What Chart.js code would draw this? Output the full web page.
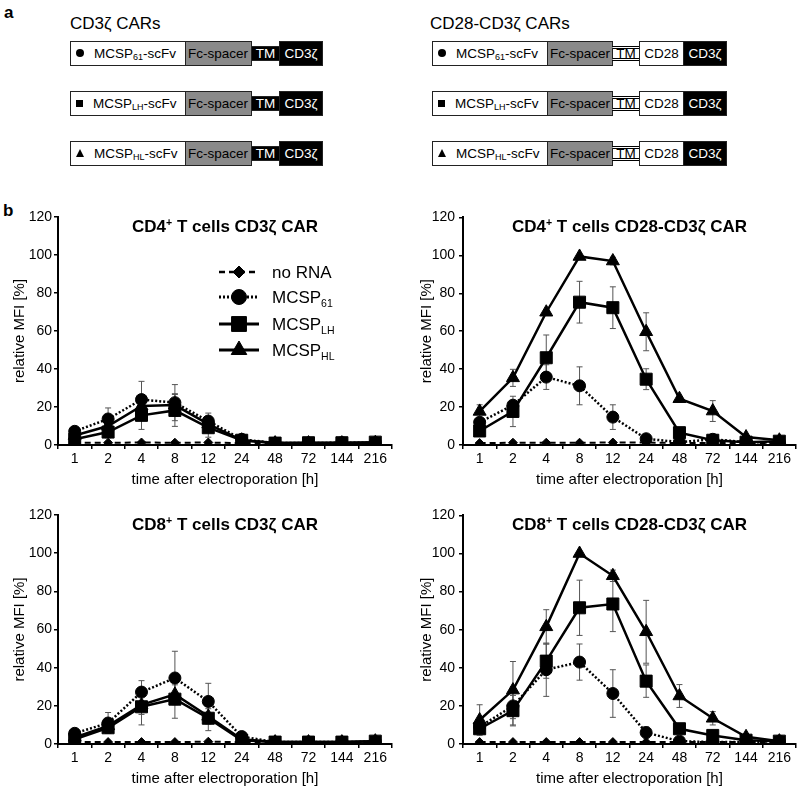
<!DOCTYPE html>
<html>
<head>
<meta charset="utf-8">
<script src="https://cdn.jsdelivr.net/npm/chart.js@4.4.1/dist/chart.umd.min.js"></script>
<style>
  body { margin: 0; width: 798px; height: 789px; position: relative; overflow: hidden; background: #fff;
         font-family: 'Liberation Sans', Arial, sans-serif; color: #000; }
  .lab { position: absolute; font-weight: bold; font-size: 17px; line-height: 20px; }
  .ttl { position: absolute; font-size: 17px; line-height: 20px; white-space: nowrap; }
  .bx { position: absolute; box-sizing: border-box; height: 25px; line-height: 23px; font-size: 13.5px;
        border: 1px solid #222; white-space: nowrap; overflow: hidden; }
  .bx sub { font-size: 9px; vertical-align: -2px; line-height: 0; }
  .mk { display: inline-block; vertical-align: middle; margin: -2px 10px 0 5px; background: #000; }
  .mk.circle { width: 8px; height: 8px; border-radius: 50%; }
  .mk.square { width: 7px; height: 7px; }
  .mk.tri { width: 0; height: 0; background: none; border-left: 4px solid transparent;
            border-right: 4px solid transparent; border-bottom: 8px solid #000; }
  canvas { position: absolute; }
</style>
</head>
<body>
<div class="lab" style="left:4px;top:3px">a</div>
<div class="lab" style="left:3px;top:201px">b</div>
<div class="ttl" style="left:70px;top:14px">CD3ζ CARs</div>
<div class="ttl" style="left:430px;top:14px">CD28-CD3ζ CARs</div>
<div id="constructs"></div>

<canvas id="c1" width="400" height="286" style="left:0;top:205px"></canvas>
<canvas id="c2" width="398" height="286" style="left:400px;top:205px"></canvas>
<canvas id="c3" width="400" height="287" style="left:0;top:503px"></canvas>
<canvas id="c4" width="398" height="287" style="left:400px;top:503px"></canvas>

<script>
// time points (h)
const hours = ['1', '2', '4', '8', '12', '24', '48', '72', '144', '216'];

// CD4+ T cells, CD3ζ CAR
const cd4zNone = [1.2, 1.2, 1.3, 1.2, 1.3, 1, 1, 1, 1, 1];
const cd4zM61 = [7.2, 13.7, 23.9, 22.3, 12.6, 3, 1, 1, 1.2, 1.2];
const cd4zLH = [3, 6.8, 15.6, 18.2, 9.1, 2.5, 1, 1.2, 1.2, 1.5];
const cd4zHL = [5, 10, 20.5, 21, 11, 2.5, 1, 1, 1, 1.2];
const cd4zNoneErr = [0.4, 0.4, 0.4, 0.4, 0.4, 0.3, 0.3, 0.3, 0.3, 0.3];
const cd4zM61Err = [1.5, 5.8, 9.6, 9.5, 4.2, 1, 0.3, 0.3, 0.3, 0.3];
const cd4zLHErr = [1, 3, 7.4, 8.4, 5, 1, 0.3, 0.3, 0.3, 0.3];
const cd4zHLErr = [1.5, 3, 5, 6, 4, 1, 0.3, 0.3, 0.3, 0.3];

// CD4+ T cells, CD28-CD3ζ CAR
const cd4cNone = [1, 1.2, 1.2, 1.2, 1.3, 1.3, 1, 1, 1, 1];
const cd4cM61 = [12, 21, 35.8, 31.2, 14.7, 3.3, 1.5, 3, 1.5, 1.5];
const cd4cLH = [7.4, 17.7, 46, 75.3, 72.4, 34.7, 6.5, 2.5, 1.5, 2];
const cd4cHL = [17.7, 35.4, 70, 99.4, 97, 59.7, 24.4, 17.9, 4.2, 2.5];
const cd4cNoneErr = [0.4, 0.4, 0.4, 0.4, 0.4, 0.4, 0.3, 0.3, 0.3, 0.3];
const cd4cM61Err = [2, 2, 6.5, 10, 6.5, 1, 0.5, 1, 0.5, 0.5];
const cd4cLHErr = [2, 8, 12, 11, 11, 5.5, 1, 1, 0.5, 0.5];
const cd4cHLErr = [3.5, 4.5, 1, 0.5, 2, 10, 1, 5.5, 1, 0.5];

// CD8+ T cells, CD3ζ CAR
const cd8zNone = [1, 1, 1, 1, 1.2, 1, 1, 1, 1, 1];
const cd8zM61 = [5.6, 11, 27.2, 34.6, 22.3, 3.9, 1, 1, 1, 1.2];
const cd8zLH = [2.5, 8.5, 19.5, 23.5, 13.5, 2, 1, 1, 1, 1.5];
const cd8zHL = [3.5, 9.5, 20.5, 26, 14.5, 2.5, 1, 1, 1, 1.5];
const cd8zNoneErr = [0.3, 0.3, 0.3, 0.3, 0.3, 0.3, 0.3, 0.3, 0.3, 0.3];
const cd8zM61Err = [1.5, 5.5, 6, 14, 9.5, 1, 0.3, 0.3, 0.3, 0.3];
const cd8zLHErr = [1, 3, 9.5, 10, 6.5, 1, 0.3, 0.3, 0.3, 0.3];
const cd8zHLErr = [1, 3, 5, 5, 4, 1, 0.3, 0.3, 0.3, 0.3];

// CD8+ T cells, CD28-CD3ζ CAR
const cd8cNone = [1, 1, 1, 1, 1, 1, 1, 1, 1, 1];
const cd8cM61 = [9, 20, 39, 43, 26.5, 6, 1.5, 1, 1, 1.5];
const cd8cLH = [8, 17.5, 43.5, 71.5, 73.5, 33, 8, 4.5, 2, 1.5];
const cd8cHL = [12.6, 28.3, 61.5, 100, 88.3, 58.9, 25.2, 13.5, 3.8, 1.5];
const cd8cNoneErr = [0.3, 0.3, 0.3, 0.3, 0.3, 0.3, 0.3, 0.3, 0.3, 0.3];
const cd8cM61Err = [3, 10, 14, 9.5, 12.5, 3, 0.5, 0.5, 0.5, 0.5];
const cd8cLHErr = [2, 8, 9, 14.5, 14.5, 8.5, 1, 1, 0.5, 0.5];
const cd8cHLErr = [8, 15, 9, 0.5, 3, 16.5, 6, 3.5, 1, 0.5];

const FAMILY = "'Liberation Sans', Arial, sans-serif";
Chart.defaults.font.family = FAMILY;
Chart.defaults.color = '#000';

// ---- panel a: construct schematics (plain html boxes)
const scfvNames = [['circle', 'MCSP', '61'], ['square', 'MCSP', 'LH'], ['tri', 'MCSP', 'HL']];
const rowTops = [41, 91, 141];
const holder = document.getElementById('constructs');
function box(left, top, width, html, style) {
  const d = document.createElement('div');
  d.className = 'bx';
  d.style.left = left + 'px';
  d.style.top = top + 'px';
  d.style.width = width + 'px';
  d.innerHTML = html;
  Object.assign(d.style, style || {});
  holder.appendChild(d);
}
scfvNames.forEach((n, i) => {
  const t = rowTops[i];
  const label = '<span class="mk ' + n[0] + '"></span>' + n[1] + '<sub>' + n[2] + '</sub>-scFv';
  // CD3ζ constructs
  box(70, t, 116, label, { background: '#fff' });
  box(185, t, 67, '<span style="margin-left:2px">Fc-spacer</span>', { background: '#8a8a8a' });
  box(251, t + 5, 29, 'TM', { background: '#000', color: '#fff', height: '15px', lineHeight: '13px', textAlign: 'center' });
  box(279, t, 44, 'CD3ζ', { background: '#000', color: '#fff', textAlign: 'center' });
  // CD28-CD3ζ constructs
  box(432, t, 116, label, { background: '#fff' });
  box(547, t, 66, '<span style="margin-left:2px">Fc-spacer</span>', { background: '#8a8a8a' });
  box(612, t + 5, 28, 'TM', { background: '#fff', height: '15px', lineHeight: '9px', textAlign: 'center',
    borderTop: '3px double #000', borderBottom: '3px double #000' });
  box(639, t, 45, 'CD28', { background: '#fff', textAlign: 'center' });
  box(683, t, 44, 'CD3ζ', { background: '#000', color: '#fff', textAlign: 'center' });
});

// ---- panel b helpers
// parts: [text, mode] with mode 0 normal, 1 superscript, -1 subscript
function drawRich(ctx, parts, x, y, size, bold, centered) {
  const fontFor = m => (bold ? 'bold ' : '') + (m ? size * 0.62 : size) + 'px ' + FAMILY;
  let w = 0;
  parts.forEach(p => { ctx.font = fontFor(p[1]); w += ctx.measureText(p[0]).width; });
  let cx = centered ? x - w / 2 : x;
  ctx.textAlign = 'left';
  ctx.textBaseline = 'alphabetic';
  parts.forEach(p => {
    ctx.font = fontFor(p[1]);
    const dy = p[1] === 1 ? -size * 0.36 : (p[1] === -1 ? size * 0.24 : 0);
    ctx.fillText(p[0], cx, y + dy);
    cx += ctx.measureText(p[0]).width;
  });
}

const errorBars = {
  id: 'errorBars',
  beforeDatasetsDraw(chart) {
    const ctx = chart.ctx, ys = chart.scales.y;
    ctx.save();
    ctx.strokeStyle = '#555';
    ctx.lineWidth = 1;
    chart.data.datasets.forEach((ds, i) => {
      chart.getDatasetMeta(i).data.forEach((pt, j) => {
        const e = ds.errors[j];
        if (!e) return;
        const v = ds.data[j];
        const top = ys.getPixelForValue(v + e);
        const bot = ys.getPixelForValue(Math.max(0, v - e));
        ctx.beginPath();
        ctx.moveTo(pt.x, top); ctx.lineTo(pt.x, bot);
        ctx.moveTo(pt.x - 3, top); ctx.lineTo(pt.x + 3, top);
        ctx.moveTo(pt.x - 3, bot); ctx.lineTo(pt.x + 3, bot);
        ctx.stroke();
      });
    });
    ctx.restore();
  }
};

const panelTitle = {
  id: 'panelTitle',
  afterDraw(chart, args, opts) {
    const a = chart.chartArea, ctx = chart.ctx;
    ctx.save();
    ctx.fillStyle = '#000';
    drawRich(ctx, opts.parts, (a.left + a.right) / 2, a.top + 15, 17, true, true);
    ctx.restore();
  }
};

const seriesStyle = [
  { label: [['no RNA', 0]], dash: [6, 4], width: 2, pointStyle: 'rectRot', radius: 4.5, legendRadius: 6 },
  { label: [['MCSP', 0], ['61', -1]], dash: [2, 2], width: 2.5, pointStyle: 'circle', radius: 6, legendRadius: 7.5 },
  { label: [['MCSP', 0], ['LH', -1]], dash: [], width: 2.5, pointStyle: 'rect', radius: 8.5, legendRadius: 10.5 },
  { label: [['MCSP', 0], ['HL', -1]], dash: [], width: 2.5, pointStyle: 'triangle', radius: 7.5, legendRadius: 9 }
];

const legendBox = {
  id: 'legendBox',
  afterDraw(chart, args, opts) {
    if (!opts.show) return;
    const a = chart.chartArea, ctx = chart.ctx;
    const rows = [55, 80, 107, 133];
    ctx.save();
    seriesStyle.forEach((s, i) => {
      const y = a.top + rows[i];
      ctx.strokeStyle = '#000';
      ctx.fillStyle = '#000';
      ctx.lineWidth = s.width + 0.5;
      ctx.setLineDash(s.dash);
      ctx.beginPath();
      ctx.moveTo(a.left + 161, y);
      ctx.lineTo(a.left + 201, y);
      ctx.stroke();
      ctx.setLineDash([]);
      ctx.lineWidth = 1;
      Chart.helpers.drawPoint(ctx, { pointStyle: s.pointStyle, radius: s.legendRadius, rotation: 0, borderWidth: 1 }, a.left + 181, y);
      drawRich(ctx, s.label, a.left + 214, y + 6, 17, false, false);
    });
    ctx.restore();
  }
};

function makeChart(id, titleParts, series, errors, yWidth, yTitlePad, tickPad, padRight, showLegend) {
  const datasets = series.map((d, i) => {
    const s = seriesStyle[i];
    return {
      data: d,
      errors: errors[i],
      borderColor: '#000',
      backgroundColor: '#000',
      borderWidth: s.width,
      borderDash: s.dash,
      pointStyle: s.pointStyle,
      pointRadius: s.radius,
      pointBackgroundColor: '#000',
      pointBorderColor: '#000',
      pointBorderWidth: 1,
      tension: 0
    };
  });
  return new Chart(document.getElementById(id), {
    type: 'line',
    data: { labels: hours, datasets: datasets },
    options: {
      responsive: false,
      animation: false,
      layout: { autoPadding: false, padding: { left: 0, top: 12, right: padRight, bottom: 0 } },
      plugins: {
        legend: { display: false },
        tooltip: { enabled: false },
        panelTitle: { parts: titleParts },
        legendBox: { show: showLegend }
      },
      scales: {
        x: {
          offset: true,
          grid: { offset: true, drawOnChartArea: false, tickLength: 4, color: '#000', lineWidth: 1.5 },
          border: { color: '#000', width: 2 },
          ticks: { padding: 2, font: { size: 14 }, color: '#000', maxRotation: 0, autoSkip: false },
          title: { display: true, text: 'time after electroporation [h]', font: { size: 15 }, color: '#000',
                   padding: { top: 0, bottom: 2 } },
          afterFit(s) { s.height = 46; }
        },
        y: {
          min: 0,
          max: 120,
          grid: { drawOnChartArea: false, tickLength: 4, color: '#000', lineWidth: 1.5 },
          border: { color: '#000', width: 2 },
          ticks: { stepSize: 20, padding: tickPad, font: { size: 14 }, color: '#000' },
          title: { display: true, text: 'relative MFI [%]', font: { size: 15 }, color: '#000',
                   padding: { top: yTitlePad, bottom: 0 } },
          afterFit(s) { s.width = yWidth; }
        }
      }
    },
    plugins: [errorBars, panelTitle, legendBox]
  });
}

makeChart('c1', [['CD4', 0], ['+', 1], [' T cells CD3ζ CAR', 0]],
  [cd4zNone, cd4zM61, cd4zLH, cd4zHL], [cd4zNoneErr, cd4zM61Err, cd4zLHErr, cd4zHLErr], 58, 11, 2, 8, true);
makeChart('c2', [['CD4', 0], ['+', 1], [' T cells CD28-CD3ζ CAR', 0]],
  [cd4cNone, cd4cM61, cd4cLH, cd4cHL], [cd4cNoneErr, cd4cM61Err, cd4cLHErr, cd4cHLErr], 63, 18, 4, 2, false);
makeChart('c3', [['CD8', 0], ['+', 1], [' T cells CD3ζ CAR', 0]],
  [cd8zNone, cd8zM61, cd8zLH, cd8zHL], [cd8zNoneErr, cd8zM61Err, cd8zLHErr, cd8zHLErr], 58, 11, 2, 8, false);
makeChart('c4', [['CD8', 0], ['+', 1], [' T cells CD28-CD3ζ CAR', 0]],
  [cd8cNone, cd8cM61, cd8cLH, cd8cHL], [cd8cNoneErr, cd8cM61Err, cd8cLHErr, cd8cHLErr], 63, 18, 4, 2, false);
</script>
</body>
</html>
